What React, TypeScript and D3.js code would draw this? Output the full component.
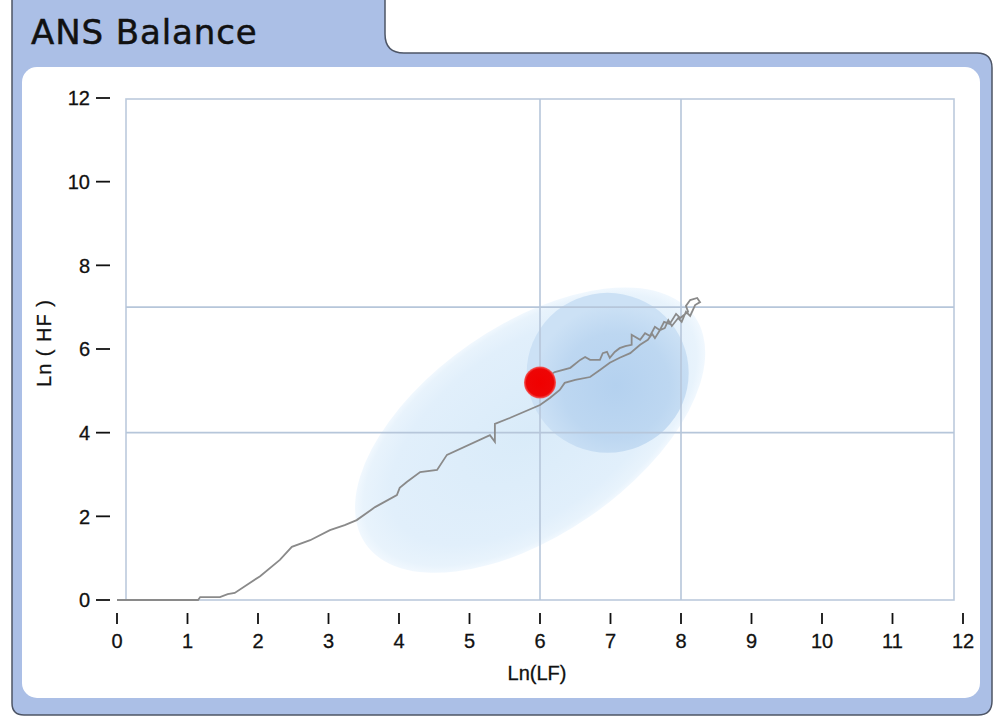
import React from "react";
import * as d3 from "d3";

// ---- data ----
const xTicks = [0, 1, 2, 3, 4, 5, 6, 7, 8, 9, 10, 11, 12];
const yTicks = [0, 2, 4, 6, 8, 10, 12];
const xGrid = [6, 8];
const yGrid = [4, 7];

// trace of Ln(LF), Ln(HF)
const traceLF = [
  0, 1.15, 1.18, 1.46, 1.57, 1.67, 2.03, 2.31, 2.48, 2.74, 3.02, 3.23, 3.4, 3.66, 3.97, 4.01, 4.11, 4.3, 4.54, 4.68,
  5.29, 5.36, 5.36, 5.57, 6.0, 6.14, 6.28, 6.35, 6.5, 6.71, 6.85, 6.99, 7.13, 7.28, 7.42, 7.53, 7.59, 7.63, 7.7,
  7.77, 7.82, 7.87, 7.96, 8.01, 8.07, 8.13, 8.2, 8.27, 8.23, 8.13, 8.07, 8.1, 7.99, 7.93, 7.84, 7.76, 7.7, 7.63,
  7.56, 7.49, 7.42, 7.3, 7.3, 7.21, 7.13, 7.06, 6.99, 6.95, 6.89, 6.85, 6.71, 6.64, 6.57, 6.43, 6.21, 6.07, 6.01,
];
const traceHF = [
  0, 0, 0.07, 0.07, 0.14, 0.17, 0.57, 0.96, 1.27, 1.43, 1.67, 1.79, 1.91, 2.22, 2.51, 2.68, 2.82, 3.06, 3.11, 3.47,
  3.94, 3.78, 4.21, 4.35, 4.66, 4.83, 5.02, 5.19, 5.26, 5.33, 5.5, 5.67, 5.79, 5.9, 6.1, 6.22, 6.36, 6.26, 6.45,
  6.5, 6.69, 6.55, 6.74, 6.65, 6.89, 6.79, 7.05, 7.12, 7.22, 7.17, 7.03, 6.89, 6.74, 6.84, 6.6, 6.65, 6.45, 6.53,
  6.31, 6.38, 6.22, 6.34, 6.1, 6.07, 6.02, 5.93, 5.79, 5.93, 5.9, 5.74, 5.74, 5.81, 5.74, 5.55, 5.45, 5.31, 5.19,
];
const currentPoint = { lf: 6.0, hf: 5.2 };
// reference zones (centre in data units)
const outerZone = { lf: 5.86, hf: 4.06 };
const innerZone = { lf: 6.96, hf: 5.43 };

const W = 1000;
const H = 720;

export default function App() {
  const x = d3.scaleLinear().domain([0, 12]).range([117, 963]);
  const y = d3.scaleLinear().domain([0, 12]).range([600, 98]);
  const frame = { x0: 126, x1: 954, y0: 99, y1: 600 };

  const pts: [number, number][] = traceLF.map((v, i) => [v, traceHF[i]]);
  const line = d3
    .line<[number, number]>()
    .x((d) => x(d[0]))
    .y((d) => y(d[1]));

  const font = "'Liberation Sans', Arial, sans-serif";

  const ox = x(outerZone.lf);
  const oy = y(outerZone.hf);
  const ix = x(innerZone.lf);
  const iy = y(innerZone.hf);

  return (
    <svg
      width={W}
      height={H}
      style={{ position: "absolute", left: 0, top: 0, background: "#fff" }}
    >
      <defs>
        <radialGradient id="outerG" cx="50%" cy="50%" r="50%">
          <stop offset="0%" stopColor="#d9ebf9" />
          <stop offset="80%" stopColor="#e1effb" />
          <stop offset="95%" stopColor="#e8f3fc" />
          <stop offset="100%" stopColor="#f1f8fe" />
        </radialGradient>
        <radialGradient id="innerG" cx="55%" cy="58%" r="55%">
          <stop offset="0%" stopColor="#b4d1ef" />
          <stop offset="60%" stopColor="#bdd7f1" />
          <stop offset="92%" stopColor="#cce1f5" />
        </radialGradient>
        <radialGradient id="dotG" cx="50%" cy="50%" r="50%">
          <stop offset="0%" stopColor="#f00000" />
          <stop offset="85%" stopColor="#ee0505" />
          <stop offset="100%" stopColor="#f26060" />
        </radialGradient>
        <clipPath id="plotClip">
          <rect x={frame.x0} y={frame.y0} width={frame.x1 - frame.x0} height={frame.y1 - frame.y0} />
        </clipPath>
      </defs>

      {/* panel */}
      <path
        d="M12,-3 L12,703 Q12,715 24,715 L978,715 Q992,715 992,701 L992,68 Q992,53 977,53 L404,53 Q385,53 385,34 L385,-3 Z"
        fill="#abbfe6"
        stroke="#4d5566"
        strokeWidth={1.5}
      />
      <rect x={22} y={67} width={958} height={631} rx={15} ry={15} fill="#ffffff" />

      <text
        x={31}
        y={44}
        fontFamily="'DejaVu Sans', Verdana, sans-serif"
        fontSize={34}
        letterSpacing={0.9}
        fill="#111"
        stroke="#111"
        strokeWidth={0.5}
      >
        ANS Balance
      </text>

      {/* zones */}
      <g clipPath="url(#plotClip)">
        <ellipse
          cx={ox}
          cy={oy}
          rx={200}
          ry={105}
          transform={`rotate(-34.6 ${ox} ${oy})`}
          fill="url(#outerG)"
        />
        <ellipse cx={ix} cy={iy} rx={81} ry={80} fill="url(#innerG)" />
      </g>

      {/* frame and grid */}
      <rect
        x={frame.x0}
        y={frame.y0}
        width={frame.x1 - frame.x0}
        height={frame.y1 - frame.y0}
        fill="none"
        stroke="#bccadc"
        strokeWidth={1.6}
      />
      {xGrid.map((v) => (
        <line key={"gx" + v} x1={x(v)} x2={x(v)} y1={frame.y0} y2={frame.y1} stroke="#b6c6da" strokeWidth={1.6} />
      ))}
      {yGrid.map((v) => (
        <line key={"gy" + v} x1={frame.x0} x2={frame.x1} y1={y(v)} y2={y(v)} stroke="#b6c6da" strokeWidth={1.6} />
      ))}

      {/* trace */}
      <path d={line(pts) || ""} fill="none" stroke="#8a8a8a" strokeWidth={1.8} strokeLinejoin="miter" />

      {/* current point */}
      <circle cx={x(currentPoint.lf)} cy={y(currentPoint.hf)} r={16} fill="url(#dotG)" />

      {/* y axis */}
      {yTicks.map((v) => (
        <g key={"yt" + v}>
          <text
            x={90}
            y={y(v)}
            dy="0.36em"
            textAnchor="end"
            fontFamily={font}
            fontSize={20}
            fill="#111"
            stroke="#111"
            strokeWidth={0.3}
          >
            {v}
          </text>
          <line x1={96} x2={110} y1={y(v)} y2={y(v)} stroke="#111" strokeWidth={1.8} />
        </g>
      ))}

      {/* x axis */}
      {xTicks.map((v) => (
        <g key={"xt" + v}>
          <line x1={x(v)} x2={x(v)} y1={613} y2={624} stroke="#111" strokeWidth={1.8} />
          <text
            x={x(v)}
            y={648}
            textAnchor="middle"
            fontFamily={font}
            fontSize={20}
            fill="#111"
            stroke="#111"
            strokeWidth={0.3}
          >
            {v}
          </text>
        </g>
      ))}

      <text
        x={537}
        y={680}
        textAnchor="middle"
        fontFamily={font}
        fontSize={20}
        fill="#111"
        stroke="#111"
        strokeWidth={0.3}
      >
        Ln(LF)
      </text>
      <text
        transform="translate(51,343) rotate(-90)"
        textAnchor="middle"
        fontFamily={font}
        fontSize={20}
        letterSpacing={1}
        fill="#111"
        stroke="#111"
        strokeWidth={0.3}
      >
        Ln ( HF )
      </text>
    </svg>
  );
}
